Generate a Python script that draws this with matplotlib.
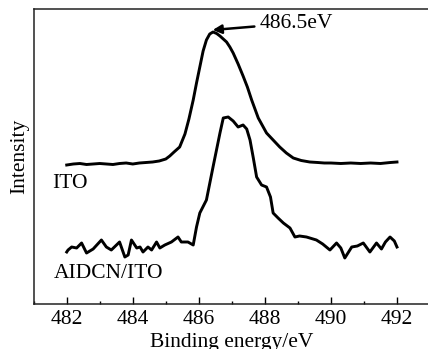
import numpy as np
import matplotlib
matplotlib.use("Agg")
import matplotlib.pyplot as plt
from matplotlib.ticker import MultipleLocator

plt.rcParams['font.family'] = ['Liberation Serif', 'DejaVu Serif']

# ITO spectrum (binding energy, intensity in arbitrary units)
ito_x = [482.0, 482.2, 482.4, 482.6, 482.8, 483.0, 483.2, 483.4, 483.6, 483.8,
         484.0, 484.2, 484.4, 484.6, 484.8, 485.0, 485.12, 485.25, 485.42, 485.58,
         485.7, 485.83, 485.93, 486.03, 486.13, 486.23, 486.33, 486.43, 486.54, 486.64,
         486.74, 486.84, 486.94, 487.04, 487.19, 487.34, 487.47, 487.6, 487.8, 488.05,
         488.25, 488.45, 488.65, 488.86, 489.1, 489.36, 489.6, 489.8, 490.0, 490.3,
         490.6, 490.9, 491.2, 491.5, 491.8, 492.0]
ito_y = [139, 140, 140.5, 139.5, 140, 140.5, 140, 139.5, 140.5, 141,
         140, 141, 141.5, 142, 143, 145, 148, 152, 157, 170,
         185, 204, 221, 237, 253, 264, 270, 272, 270.5, 268,
         265, 262, 257, 251, 240, 228, 217, 204, 186, 171,
         164, 157, 151, 146, 143.5, 142, 141.5, 141, 141, 140.5,
         141, 140.5, 141, 140.5, 141.5, 142]

# AIDCN/ITO spectrum
aidcn_x = [482.0, 482.04, 482.15, 482.3, 482.45, 482.6, 482.8, 483.05, 483.2, 483.35,
           483.6, 483.76, 483.86, 483.96, 484.12, 484.22, 484.31, 484.46, 484.57, 484.72,
           484.82, 484.97, 485.17, 485.37, 485.47, 485.67, 485.83, 485.93, 486.03, 486.23,
           486.43, 486.64, 486.74, 486.89, 487.04, 487.19, 487.34, 487.45, 487.55, 487.65,
           487.75, 487.9, 488.05, 488.17, 488.25, 488.4, 488.56, 488.76, 488.91, 489.05,
           489.26, 489.56, 489.75, 489.97, 490.17, 490.3, 490.42, 490.63, 490.8, 490.98,
           491.18, 491.38, 491.53, 491.65, 491.79, 491.92, 492.0]
aidcn_y = [52, 54, 57, 56, 61, 51, 55, 64, 57, 54,
           62, 47, 49, 64, 56, 57, 52, 57, 54, 62,
           56, 59, 62, 67, 62, 62, 59, 77, 91, 104,
           137, 171, 186, 187, 183, 177, 179, 175, 164, 146,
           127, 119, 117, 107, 91, 86, 81, 76, 67, 68,
           67, 64, 60, 54, 61, 56, 46, 57, 58, 61,
           52, 61, 55, 62, 67, 63, 57]

xticks = [482, 484, 486, 488, 490, 492]

fig = plt.figure(figsize=(4.28, 3.49), dpi=100)
ax = fig.add_axes([33.7 / 428, 45 / 349, 396.3 / 428, 295 / 349])

ax.plot(ito_x, ito_y, color='black', lw=2.1)
ax.plot(aidcn_x, aidcn_y, color='black', lw=2.1)

ax.set_xlim(481, 493)
ax.set_ylim(0, 295)
ax.set_xticks(xticks)
ax.xaxis.set_minor_locator(MultipleLocator(1))
ax.set_yticks([])
ax.tick_params(axis='x', which='major', direction='in', length=5, width=1,
               labelsize=15.5, pad=4)
ax.tick_params(axis='x', which='minor', direction='in', length=2.5, width=1)
for s in ax.spines.values():
    s.set_linewidth(1.1)
    s.set_color('#222222')
ax.spines['right'].set_visible(False)

ax.set_xlabel('Binding energy/eV', fontsize=15.5, labelpad=3)
ax.set_ylabel('Intensity', fontsize=15.5, labelpad=3)

ax.text(481.55, 121, 'ITO', fontsize=15.5, va='center', ha='left')
ax.text(481.6, 31, 'AIDCN/ITO', fontsize=15.5, va='center', ha='left')

ax.annotate('486.5eV', xy=(486.42, 274), xytext=(487.85, 281),
            fontsize=15.5, va='center', ha='left',
            arrowprops=dict(arrowstyle='-|>', color='black', lw=1.8,
                            mutation_scale=13, shrinkA=2, shrinkB=0))

fig.savefig('out.png', dpi=100)
